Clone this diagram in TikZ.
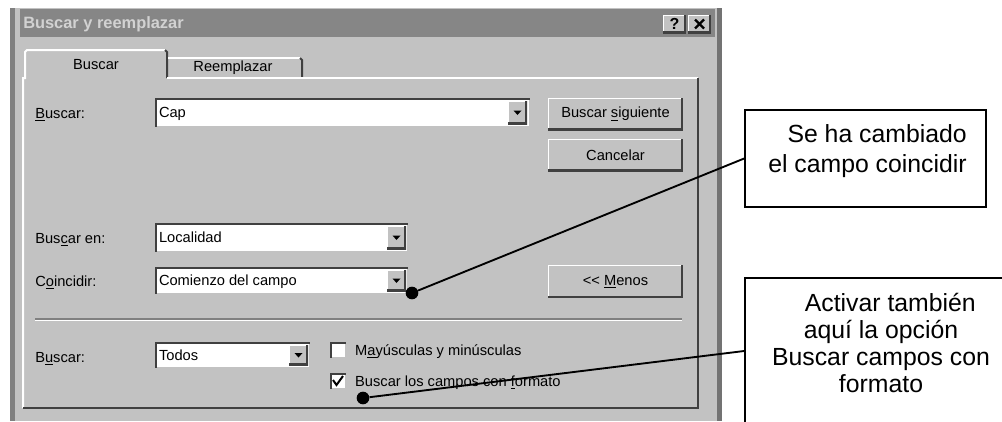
\documentclass[tikz,border=0pt]{standalone}
\usepackage{fontspec}
\setmainfont{Liberation Sans}
\usetikzlibrary{positioning,fit}

\definecolor{btnface}{RGB}{194,194,194}
\definecolor{btnshadow}{RGB}{64,64,64}
\definecolor{midgray}{RGB}{128,128,128}
\definecolor{titlebar}{RGB}{134,134,134}
\definecolor{titletext}{RGB}{210,210,210}

\newcommand{\dlgfont}{\fontsize{11}{13}\selectfont}
\newcommand{\notefont}{\fontsize{18.6}{22.5}\selectfont}
% small black triangle of a drop-down button
\newcommand{\DropArrow}[1]{\fill (#1.center) ++(-4,-2) -- ++(8,0) -- ++(-4,4.5) -- cycle;}

\tikzset{
  raised/.style={fill=btnface, inner sep=0pt, font=\dlgfont,
    path picture={
      \draw[white, line width=1.6pt] (path picture bounding box.south west)
        |- (path picture bounding box.north east);
      \draw[btnshadow, line width=2.4pt] (path picture bounding box.south west)
        -| (path picture bounding box.north east);
    }},
  button/.style={raised, minimum width=101pt, minimum height=24pt},
  sunken/.style={fill=white, inner sep=0pt,
    path picture={
      \draw[btnface, line width=1.6pt] (path picture bounding box.south west)
        -| (path picture bounding box.north east);
      \draw[btnshadow, line width=3pt] (path picture bounding box.south west)
        |- (path picture bounding box.north east);
    }},
  lbl/.style={font=\dlgfont, inner sep=0pt, anchor=west, text height=8.5pt, text depth=1pt},
  hilite/.style={white, line width=1.5pt},
  lolite/.style={btnshadow, line width=1.5pt},
  calldot/.style={circle, fill=black, inner sep=0pt, minimum size=9.5pt},
  callbox/.style={draw, line width=1.3pt, inner sep=0pt},
  callline/.style={line width=1.4pt},
  note/.style={font=\notefont, inner sep=0pt}
}

\begin{document}
\begin{tikzpicture}[x=0.75pt, y=-0.75pt]
  \useasboundingbox (0,0) rectangle (1002,421);
  \clip (0,0) rectangle (1002,421);

  % window frame and title bar
  \fill[btnface] (10,8) rectangle (722,421);
  \fill[midgray] (10,8) rectangle (15,421);
  \fill[midgray!90!black] (717,8) rectangle (722,421);
  \fill[titlebar] (20,9) rectangle (715,37);
  \node[lbl, font=\fontsize{12.3}{14}\selectfont\bfseries, text=titletext] (title) at (23,23) {Buscar y reemplazar};
  \node[raised, minimum width=17pt, minimum height=13.5pt, font=\fontsize{12}{14}\selectfont\bfseries] (help) at (674.5,24) {?};
  \node[raised, minimum width=17pt, minimum height=13.5pt] (close) at (699.5,24) {};
  \draw[line width=1.8pt] ([shift={(-4.5,-4.5)}]close.center) -- ([shift={(4.5,4.5)}]close.center);
  \draw[line width=1.8pt] ([shift={(-4.5,4.5)}]close.center) -- ([shift={(4.5,-4.5)}]close.center);

  % tabs and tab panel
  \draw[hilite] (23,408) -- (23,78) -- (25,78) -- (25,52) -- (27,50) -- (165,50);
  \draw[lolite] (165,50) -- (167,52) -- (167,78);
  \draw[hilite] (168,58) -- (300,58);
  \draw[lolite] (300,58) -- (302,60) -- (302,78);
  \draw[hilite] (167,78) -- (698,78);
  \draw[lolite] (698,78) -- (698,408) -- (23,408);
  \node[font=\dlgfont] (tabfind) at (96,65) {Buscar};
  \node[font=\dlgfont] (tabrepl) at (233,68) {Reemplazar};

  % search text
  \node[lbl] (findlbl) at (35,113) {\underline{B}uscar:};
  \node[sunken, fit={(155,98) (530,127)}] (findfld) {};
  \node[lbl, right=3pt of findfld.west] (findval) {Cap};
  \node[raised, fit={(508,101) (527,124)}] (findbtn) {};
  \DropArrow{findbtn}

  \node[button] (nextbtn) at (615.5,114) {Buscar \underline{s}iguiente};
  \node[button] (cancelbtn) at (615.5,155) {Cancelar};

  % where and how to match
  \node[lbl] (inlbl) at (35,238) {Bus\underline{c}ar en:};
  \node[sunken, fit={(155,223) (408,252)}] (infld) {};
  \node[lbl, right=3pt of infld.west] (inval) {Localidad};
  \node[raised, fit={(387,226) (406,249)}] (inbtn) {};
  \DropArrow{inbtn}

  \node[lbl] (matchlbl) at (35,281) {C\underline{o}incidir:};
  \node[sunken, fit={(155,267) (408,294)}] (matchfld) {};
  \node[lbl, right=3pt of matchfld.west] (matchval) {Comienzo del campo};
  \node[raised, fit={(387,270) (406,291)}] (matchbtn) {};
  \DropArrow{matchbtn}

  \node[button, minimum height=24.5pt] (lessbtn) at (615.5,281.5) {<{}< \underline{M}enos};

  % separator
  \draw[midgray, line width=0.9pt] (35,319) -- (682,319);
  \draw[white, line width=0.9pt] (35,320.5) -- (682,320.5);

  % direction and options
  \node[lbl] (dirlbl) at (35,357) {B\underline{u}scar:};
  \node[sunken, fit={(155,342) (310,368)}] (dirfld) {};
  \node[lbl, right=3pt of dirfld.west] (dirval) {Todos};
  \node[raised, fit={(289,345) (308,365)}] (dirbtn) {};
  \DropArrow{dirbtn}

  \node[sunken, fit={(330,342) (346,358)}] (casebox) {};
  \node[lbl, right=6.5pt of casebox.east] (caselbl) {M\underline{a}yúsculas y minúsculas};
  \node[sunken, fit={(330,373) (346,389)}] (fmtbox) {};
  \node[lbl, right=6.5pt of fmtbox.east] (fmtlbl) {Buscar los campos con \underline{f}ormato};
  \draw[line width=1.5pt] (333,380) -- (336.5,385) -- (343,376);

  % callouts
  \node[callbox, fit={(745,110) (986,207)}] (note1) {};
  \node[note, align=right, anchor=north east] (note1txt) at (967,124)
    {Se ha cambiado\\el campo coincidir};
  \node[callbox, fit={(745,278) (1015,424)}] (note2) {};
  \node[note, font=\fontsize{18.6}{20.25}\selectfont, align=center, anchor=north] (note2txt) at (881,293)
    {\hspace*{14pt}Activar también\\aquí la opción\\Buscar campos con\\formato};

  \node[calldot] (dot1) at (412,293) {};
  \node[calldot] (dot2) at (363,398) {};
  \draw[callline] (dot1) -- (note1.west);
  \draw[callline] (dot2) -- (note2.west);
\end{tikzpicture}
\end{document}
